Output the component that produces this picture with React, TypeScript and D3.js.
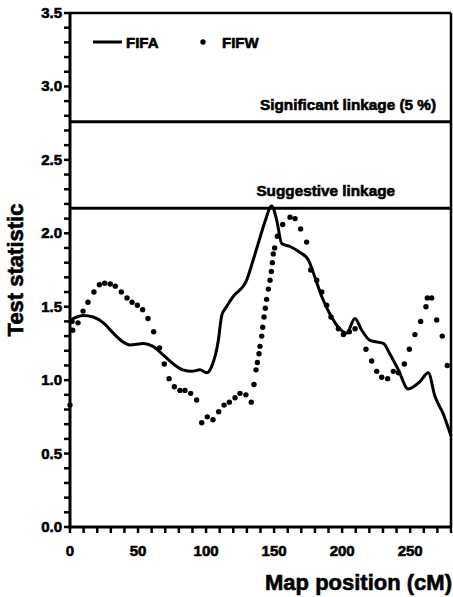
import React from "react";
import * as d3 from "d3";

// FIFA test statistic along the chromosome (solid curve)
const fifaPos = [0, 1.2, 5, 9.8, 17, 24.5, 31.8, 39, 44, 54, 61, 68.6, 76, 83, 89.4, 95.5, 100.5, 104, 109, 111.5, 115, 120, 129.8, 134.7, 139.6, 143.3, 148.2, 151.9, 155.6, 161.7, 169, 175.1, 180, 185, 191, 197.2, 203.3, 209.4, 214.4, 220.5, 230.3, 235, 241.3, 248.6, 257.2, 263.3, 268.2, 274.3, 280];
const fifaVal = [1.39, 1.41, 1.43, 1.44, 1.43, 1.39, 1.32, 1.26, 1.24, 1.25, 1.23, 1.17, 1.11, 1.07, 1.06, 1.07, 1.05, 1.09, 1.27, 1.44, 1.5, 1.57, 1.68, 1.82, 1.97, 2.08, 2.185, 2.09, 1.93, 1.91, 1.87, 1.82, 1.7, 1.57, 1.45, 1.36, 1.32, 1.42, 1.34, 1.27, 1.25, 1.18, 1.07, 0.94, 0.99, 1.05, 0.89, 0.77, 0.62];

// FIFW test statistic (dots)
const fifwPos = [0, 1.5, 2, 5.9, 9.6, 13.2, 17.6, 21.6, 25.5, 29.6, 33.3, 37.7, 41.9, 45.6, 49.5, 53.4, 57.3, 61.5, 65.8, 69.3, 72.8, 76.7, 80.8, 84.5, 88.7, 93.1, 96.8, 100.9, 105.1, 109.3, 113.2, 117.1, 121.3, 124.9, 129.3, 133.2, 135.2, 136.7, 137.7, 138.9, 139.6, 140.9, 141.6, 142.6, 143.5, 144.5, 145.8, 147, 148, 148.7, 149.4, 150.4, 152.4, 156.3, 161.7, 165.4, 169.5, 173.9, 176.9, 181.3, 185, 188.6, 191.8, 197.2, 200.9, 205.3, 209.5, 217.5, 221.7, 225.4, 229.1, 233.5, 237.6, 241.3, 245.7, 249.4, 253.5, 257.7, 261.6, 262.6, 265.8, 269.5, 273.6, 277.3];
const fifwVal = [0.83, 1.4, 1.34, 1.39, 1.47, 1.53, 1.6, 1.65, 1.66, 1.655, 1.64, 1.6, 1.56, 1.53, 1.51, 1.48, 1.42, 1.33, 1.22, 1.11, 1.01, 0.955, 0.93, 0.93, 0.91, 0.865, 0.71, 0.75, 0.73, 0.785, 0.83, 0.85, 0.88, 0.91, 0.9, 0.85, 0.97, 1.07, 1.12, 1.18, 1.23, 1.3, 1.36, 1.43, 1.49, 1.55, 1.62, 1.68, 1.74, 1.8, 1.86, 1.9, 1.98, 2.06, 2.11, 2.1, 2.03, 1.94, 1.75, 1.68, 1.6, 1.51, 1.43, 1.35, 1.31, 1.33, 1.35, 1.21, 1.13, 1.06, 1.02, 1.01, 1.06, 1.05, 1.11, 1.21, 1.31, 1.4, 1.5, 1.56, 1.56, 1.41, 1.3, 1.1];

// Linkage thresholds
const thresholdNames = ["Significant linkage (5 %)", "Suggestive linkage"];
const thresholdVals = [2.76, 2.17];

const xTickLabels = [0, 50, 100, 150, 200, 250];
const yTickLabels = [0, 0.5, 1, 1.5, 2, 2.5, 3, 3.5];
const seriesNames = ["FIFA", "FIFW"];

const W = 453;
const H = 597;
const FONT = "'Liberation Sans', Arial, Helvetica, sans-serif";

export default function App() {
  const x = d3.scaleLinear().domain([0, 280]).range([70, 451]);
  const y = d3.scaleLinear().domain([0, 3.5]).range([527, 13]);

  const line = d3
    .line<number>()
    .x((_, i) => x(fifaPos[i]))
    .y((d) => y(d))
    .curve(d3.curveMonotoneX);

  const xMinor = d3.range(0, 281, 10);
  const yMinor = d3.range(0, 36).map((i) => i / 10);

  const thrLabelX = [436, 395];

  // heavy lettering: bold face plus a thin outline
  const heavy = { stroke: "#000", strokeWidth: 0.6, paintOrder: "stroke" as const };

  return (
    <svg
      width={W}
      height={H}
      style={{ position: "absolute", left: 0, top: 0, background: "#fff" }}
      fontFamily={FONT}
      fontWeight="bold"
    >
      <rect x={0} y={0} width={W} height={H} fill="#fff" />

      {/* frame */}
      <line x1={x(0)} x2={x(280)} y1={y(3.5)} y2={y(3.5)} stroke="#000" strokeWidth={2.5} />
      <line x1={x(280)} x2={x(280)} y1={y(3.5)} y2={y(0)} stroke="#000" strokeWidth={2.5} />

      {/* threshold lines */}
      {thresholdVals.map((v, i) => (
        <g key={thresholdNames[i]}>
          <line x1={x(0)} x2={x(280)} y1={y(v)} y2={y(v)} stroke="#000" strokeWidth={3} />
          <text x={thrLabelX[i]} y={y(v) - 12} textAnchor="end" fontSize={15.3} style={heavy}>
            {thresholdNames[i]}
          </text>
        </g>
      ))}

      {/* FIFA curve */}
      <path d={line(fifaVal) || ""} fill="none" stroke="#000" strokeWidth={3} strokeLinejoin="round" />

      {/* FIFW dots */}
      {fifwVal.map((v, i) => (
        <circle key={i} cx={x(fifwPos[i])} cy={y(v)} r={2.7} fill="#000" />
      ))}

      {/* y axis */}
      <line x1={x(0)} x2={x(0)} y1={y(3.5)} y2={y(0) + 1.5} stroke="#000" strokeWidth={3} />
      {yMinor.map((v) => (
        <line key={v} x1={x(0) - 6} x2={x(0)} y1={y(v)} y2={y(v)} stroke="#000" strokeWidth={2.5} />
      ))}
      {yTickLabels.map((v) => (
        <text key={v} x={62} y={y(v) + 5} textAnchor="end" fontSize={15} style={heavy}>
          {v.toFixed(1)}
        </text>
      ))}

      {/* x axis */}
      <line x1={x(0) - 1.5} x2={x(280)} y1={y(0)} y2={y(0)} stroke="#000" strokeWidth={3} />
      {xMinor.map((v) => (
        <line key={v} x1={x(v)} x2={x(v)} y1={y(0)} y2={y(0) + 6} stroke="#000" strokeWidth={2.5} />
      ))}
      {xTickLabels.map((v) => (
        <text key={v} x={x(v)} y={556} textAnchor="middle" fontSize={15} style={heavy}>
          {v}
        </text>
      ))}

      {/* axis titles */}
      <text x={452} y={590} textAnchor="end" fontSize={22} style={heavy}>
        Map position (cM)
      </text>
      <text
        transform={`translate(23, ${(y(0) + y(3.5)) / 2}) rotate(-90)`}
        textAnchor="middle"
        fontSize={22}
        style={heavy}
      >
        Test statistic
      </text>

      {/* legend */}
      <line x1={93} x2={122} y1={42} y2={42} stroke="#000" strokeWidth={3} />
      <text x={126} y={47.5} fontSize={15} style={heavy}>
        {seriesNames[0]}
      </text>
      <circle cx={203} cy={42} r={2.7} fill="#000" />
      <text x={222} y={47.5} fontSize={15} style={heavy}>
        {seriesNames[1]}
      </text>
    </svg>
  );
}
